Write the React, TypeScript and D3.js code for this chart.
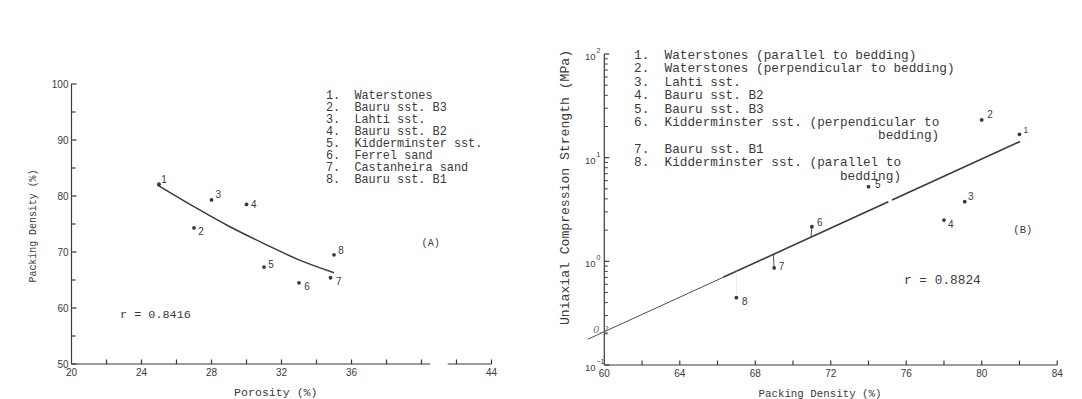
import React from 'react';
import * as d3 from 'd3';

// ---------- Panel A : packing density vs porosity ----------
const porosity = [25, 27, 28, 30, 31, 33, 34.8, 35.0];
const packingA = [82.1, 74.3, 79.3, 78.5, 67.3, 64.5, 65.4, 69.5];
const curveX = [24.9, 27, 29, 31, 33, 35];
const curveY = [82.0, 78.1, 74.6, 71.5, 68.6, 66.3];
const legendA = ['Waterstones', 'Bauru sst. B3', 'Lahti sst.', 'Bauru sst. B2', 'Kidderminster sst.', 'Ferrel sand', 'Castanheira sand', 'Bauru sst. B1'];
const xTickLabelsA = ['20', '24', '28', '32', '36', '44'];
const yTickLabelsA = [50, 60, 70, 80, 90, 100];
const rA = 'r = 0.8416';

// ---------- Panel B : UCS vs packing density ----------
const packingB = [82, 80, 79.1, 78, 74, 71, 69, 67];
const ucs = [16.8, 23.1, 3.76, 2.5, 5.25, 2.16, 0.863, 0.446];
const regX = [59.12, 82.03];
const regY = [0.177, 14.3];
const legendB: string[][] = [
  ['1.', 'Waterstones (parallel to bedding)'],
  ['2.', 'Waterstones (perpendicular to bedding)'],
  ['3.', 'Lahti sst.'],
  ['4.', 'Bauru sst. B2'],
  ['5.', 'Bauru sst. B3'],
  ['6.', 'Kidderminster sst. (perpendicular to', 'bedding)'],
  ['7.', 'Bauru sst. B1'],
  ['8.', 'Kidderminster sst. (parallel to', 'bedding)'],
];
const xTickLabelsB = [60, 64, 68, 72, 76, 80, 84];
const yDecadesB = [-1, 0, 1, 2];
const rB = 'r = 0.8824';
const residualPoints = [6, 7]; // point numbers with residual line
const faintResidual = [8];

// ---------- styling / layout ----------
const INK = '#3a3a3a';
const MONO = '"Liberation Mono", "DejaVu Sans Mono", monospace';
const SANS = '"Liberation Sans", Arial, sans-serif';
const offA = [[5, -5], [7, 3.3], [6.7, -5.7], [7.3, 0], [7, -3], [8, 4], [8.3, 3.3], [7, -4.3]];
const offB = [[6.4, -5.3], [8.3, -5], [6, -5], [6.7, 4.3], [9.2, -2.2], [8, -4], [7.3, -1.3], [8.4, 4]];

export default function App() {
  const xA = d3.scaleLinear().domain([20, 44]).range([71.5, 491.5]);
  const yA = d3.scaleLinear().domain([50, 100]).range([364, 84]);
  const xB = d3.scaleLinear().domain([60, 84]).range([604.3, 1057.2]);
  const yB = d3.scaleLog().domain([0.1, 100]).range([365, 54]);

  const curve = d3.line<number>().x((_, i) => xA(curveX[i])).y((d) => yA(d)).curve(d3.curveMonotoneX);

  const l0 = Math.log10(regY[0]);
  const l1 = Math.log10(regY[1]);
  const regAt = (x: number) => Math.pow(10, l0 + ((x - regX[0]) * (l1 - l0)) / (regX[1] - regX[0]));
  const regSegs = [
    { a: regX[0], b: 66.3, w: 0.9 },
    { a: 66.3, b: 75.05, w: 1.6 },
    { a: 75.25, b: regX[1], w: 1.6 },
  ];

  const xMinorA = d3.range(22, 44.01, 2);
  const yMinorA = d3.range(55, 100, 10);
  const xMinorB = d3.range(62, 84.01, 2);
  const yMinorB: number[] = [];
  [-1, 0, 1].forEach((d) => {
    for (let k = 2; k <= 9; k++) yMinorB.push(k * Math.pow(10, d));
  });

  const lgAx = 326, lgAtx = 354.4, lgAy = 99, lgAdy = 12.05, lgAfs = 11.85;
  const lgBx = 634, lgBtx = 664.5, lgBy = 59, lgBdy = 13.4, lgBfs = 12.72, chB = 7.63;

  const rowsB: { num?: string; text: string; end?: number }[] = [];
  legendB.forEach((e) => {
    rowsB.push({ num: e[0], text: e[1] });
    if (e[2]) rowsB.push({ text: e[2], end: lgBtx + e[1].length * chB });
  });

  return (
    <svg width={1082} height={399} style={{ position: 'absolute', left: 0, top: 0, background: '#fff' }}>
      <rect width={1082} height={399} fill="#fff" />
      {/* ================= Panel A ================= */}
      <g stroke={INK} strokeWidth={1.2} fill="none">
        <line x1={xA(20)} x2={xA(20)} y1={yA(50)} y2={yA(100)} />
        <line x1={xA(20)} x2={xA(40.5)} y1={yA(50)} y2={yA(50)} />
        <line x1={xA(41.5)} x2={xA(44)} y1={yA(50)} y2={yA(50)} />
        {yTickLabelsA.map((v) => (
          <line key={'ya' + v} x1={xA(20)} x2={xA(20) + 5} y1={yA(v)} y2={yA(v)} />
        ))}
        {yMinorA.map((v) => (
          <line key={'yam' + v} x1={xA(20)} x2={xA(20) + 4} y1={yA(v)} y2={yA(v)} />
        ))}
        {xMinorA.map((v) => (
          <line key={'xam' + v} x1={xA(v)} x2={xA(v)} y1={yA(50)} y2={yA(50) - 4.5} />
        ))}
        <path d={curve(curveY) || ''} strokeWidth={1.5} />
      </g>
      <g fill={INK} fontFamily={SANS} fontSize={10}>
        {yTickLabelsA.map((v) => (
          <text key={'yal' + v} x={xA(20) - 3} y={yA(v) + 3.5} textAnchor="end">{String(v)}</text>
        ))}
        {xTickLabelsA.map((v) => (
          <text key={'xal' + v} x={xA(+v)} y={375.5} textAnchor="middle">{v}</text>
        ))}
      </g>
      {porosity.map((p, i) => (
        <g key={'pa' + i}>
          <circle cx={xA(p)} cy={yA(packingA[i])} r={1.9} fill={INK} />
          <text x={xA(p) + offA[i][0]} y={yA(packingA[i]) + offA[i][1] + 3.5} fill={INK} fontFamily={SANS} fontSize={10} textAnchor="middle">{String(i + 1)}</text>
        </g>
      ))}
      <g fill={INK} fontFamily={MONO}>
        {legendA.map((t, i) => (
          <g key={'la' + i} fontSize={lgAfs}>
            <text x={lgAx} y={lgAy + i * lgAdy}>{i + 1 + '.'}</text>
            <text x={lgAtx} y={lgAy + i * lgAdy}>{t}</text>
          </g>
        ))}
        <text x={120} y={318} fontSize={11.8}>{rA}</text>
        <text x={430.7} y={246} fontSize={10.2} textAnchor="middle">(A)</text>
        <text x={275.8} y={395.5} fontSize={11.6} textAnchor="middle">Porosity (%)</text>
        <text transform="translate(35.5,226) rotate(-90)" fontSize={10.2} textAnchor="middle" textLength={113} lengthAdjust="spacingAndGlyphs">Packing Density (%)</text>
      </g>

      {/* ================= Panel B ================= */}
      <g stroke={INK} strokeWidth={1.2} fill="none">
        <line x1={xB(60)} x2={xB(60)} y1={yB(0.1)} y2={yB(100)} />
        <line x1={xB(60)} x2={xB(84)} y1={yB(0.1)} y2={yB(0.1)} />
        {yDecadesB.map((d) => (
          <line key={'ybd' + d} x1={xB(60)} x2={xB(60) + 5} y1={yB(Math.pow(10, d))} y2={yB(Math.pow(10, d))} />
        ))}
        {yMinorB.map((v) => (
          <line key={'ybm' + v} x1={xB(60)} x2={xB(60) + 3.5} y1={yB(v)} y2={yB(v)} strokeWidth={1} />
        ))}
        {xMinorB.map((v) => (
          <line key={'xbm' + v} x1={xB(v)} x2={xB(v)} y1={yB(0.1)} y2={yB(0.1) - 4.5} />
        ))}
        {regSegs.map((s, i) => (
          <line key={'rs' + i} x1={xB(s.a)} y1={yB(regAt(s.a))} x2={xB(s.b)} y2={yB(regAt(s.b))} strokeWidth={s.w} />
        ))}
        {residualPoints.map((n) => (
          <line key={'res' + n} x1={xB(packingB[n - 1])} x2={xB(packingB[n - 1]) - 0.8} y1={yB(ucs[n - 1])} y2={yB(regAt(packingB[n - 1]))} strokeWidth={0.9} />
        ))}
        {faintResidual.map((n) => (
          <line key={'fres' + n} x1={xB(packingB[n - 1])} x2={xB(packingB[n - 1])} y1={yB(ucs[n - 1]) - 4} y2={yB(regAt(packingB[n - 1]))} strokeWidth={0.6} stroke="#bbb" strokeDasharray="1.5,1.5" />
        ))}
      </g>
      <g fill={INK} fontFamily={SANS}>
        {yDecadesB.map((d) => (
          <g key={'ybl' + d}>
            <text x={595.5} y={yB(Math.pow(10, d)) + 6} fontSize={9.5} textAnchor="end">10</text>
            <text x={596.5} y={yB(Math.pow(10, d)) - 1} fontSize={7}>{String(d).replace('-', '\u2212')}</text>
          </g>
        ))}
        {xTickLabelsB.map((v) => (
          <text key={'xbl' + v} x={xB(v)} y={377} fontSize={10} textAnchor="middle">{String(v)}</text>
        ))}
        <text x={593} y={333} fontSize={10} fontStyle="italic" fill="#777" fontFamily='"DejaVu Serif", serif'>0.2</text>
      </g>
      {packingB.map((p, i) => (
        <g key={'pb' + i}>
          <circle cx={xB(p)} cy={yB(ucs[i])} r={1.9} fill={INK} />
          <text x={xB(p) + offB[i][0]} y={yB(ucs[i]) + offB[i][1] + 3.5} fill={INK} fontFamily={SANS} fontSize={i === 0 ? 8.5 : 10} textAnchor="middle">{String(i + 1)}</text>
        </g>
      ))}
      <g fill={INK} fontFamily={MONO} fontSize={lgBfs}>
        {rowsB.map((r, i) =>
          r.num ? (
            <g key={'lb' + i}>
              <text x={lgBx} y={lgBy + i * lgBdy}>{r.num}</text>
              <text x={lgBtx} y={lgBy + i * lgBdy}>{r.text}</text>
            </g>
          ) : (
            <text key={'lb' + i} x={r.end} y={lgBy + i * lgBdy} textAnchor="end">{r.text}</text>
          )
        )}
        <text x={904} y={284} fontSize={12.8}>{rB}</text>
        <text x={1022.8} y={233} fontSize={10.5} textAnchor="middle">(B)</text>
        <text x={820} y={396.5} fontSize={11} textAnchor="middle" textLength={123} lengthAdjust="spacingAndGlyphs">Packing Density (%)</text>
        <text transform="translate(569,187.5) rotate(-90)" fontSize={13} textAnchor="middle" textLength={275} lengthAdjust="spacingAndGlyphs">Uniaxial Compression Strength (MPa)</text>
      </g>
    </svg>
  );
}
